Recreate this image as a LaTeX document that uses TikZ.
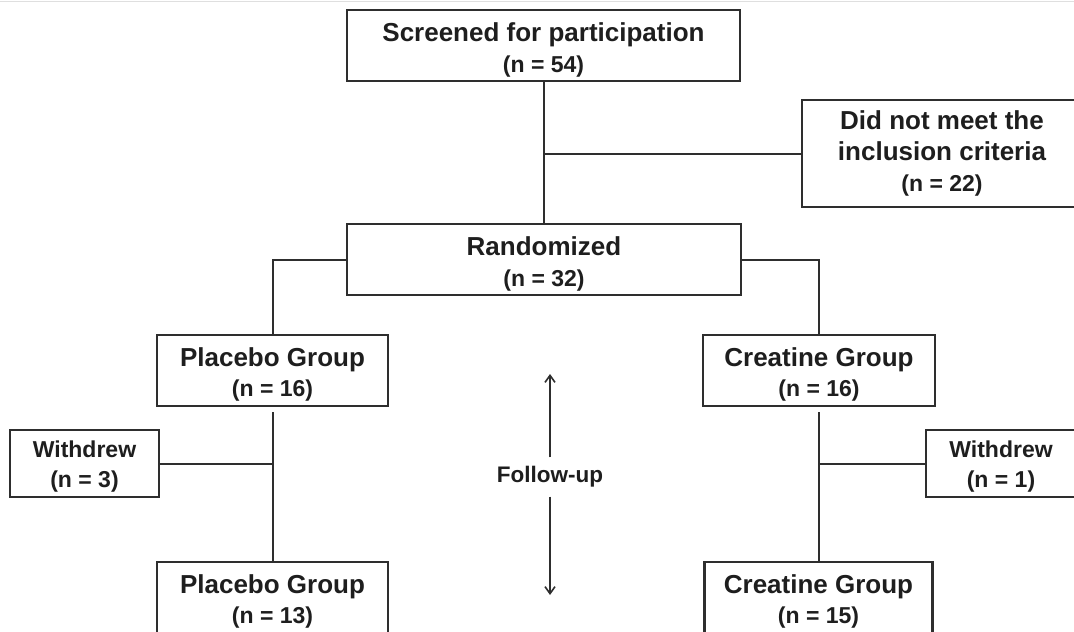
\documentclass[tikz,border=0pt]{standalone}
\usepackage{fontspec}
\setmainfont{Liberation Sans}
\usetikzlibrary{arrows.meta}
\definecolor{ln}{HTML}{2E2E2E}
\definecolor{tx}{HTML}{1E1E1E}
\newcommand{\Nsub}[1]{{\fontsize{23}{30}\selectfont #1}}
\newcommand{\Tstr}{\rule{0pt}{27pt}}
\newcommand{\Wstr}{\rule{0pt}{22pt}}
\begin{document}
\begin{tikzpicture}[x=1pt,y=-1pt,
  box/.style={draw=ln, line width=2.2pt, rectangle, inner sep=0pt, align=center, text=tx,
              font=\bfseries\fontsize{26}{31}\selectfont},
  gbox/.style={box, font=\bfseries\fontsize{26}{30}\selectfont},
  wbox/.style={box, font=\bfseries\fontsize{23}{30}\selectfont},
  conn/.style={draw=ln, line width=2pt},
  arr/.style={draw=ln, line width=1.6pt, -{Straight Barb[length=7pt,width=10pt,line width=1.6pt]}}]
\fill[white] (0,0) rectangle (1074,632);
\useasboundingbox (0,0) rectangle (1074,632);
\clip (0,0) rectangle (1074,632);
\draw[gray!25, line width=1pt] (0,1.5) -- (1074,1.5);

\node[box, minimum width=393pt, minimum height=71pt] (scr) at (543.5,45.5)
  {\Tstr Screened for participation\\\Nsub{(n = 54)}};
\node[box, minimum width=280pt, minimum height=107pt] (dnm) at (942,153.5)
  {Did not meet the\\inclusion criteria\\\Nsub{(n = 22)}};
\node[box, minimum width=394pt, minimum height=71pt] (rand) at (544,259.5)
  {\Tstr Randomized\\\Nsub{(n = 32)}};
\node[gbox, minimum width=231pt, minimum height=71pt] (pl1) at (272.5,370.5)
  {\Tstr Placebo Group\\\Nsub{(n = 16)}};
\node[gbox, minimum width=232pt, minimum height=71pt] (cr1) at (819,370.5)
  {\Tstr Creatine Group\\\Nsub{(n = 16)}};
\node[wbox, minimum width=149pt, minimum height=67pt] (wl) at (84.5,463.5)
  {\Wstr Withdrew\\(n = 3)};
\node[wbox, minimum width=150pt, minimum height=67pt] (wr) at (1001,463.5)
  {\Wstr Withdrew\\(n = 1)};
\node[gbox, minimum width=231pt, minimum height=71pt] (pl2) at (272.5,597.5)
  {\Tstr Placebo Group\\\Nsub{(n = 13)}};
\node[gbox, minimum width=228pt, minimum height=71pt] (cr2) at (818.5,597.5)
  {\Tstr Creatine Group\\\Nsub{(n = 15)}};

\node[font=\bfseries\fontsize{22.5}{26}\selectfont, text=tx, minimum height=39pt, inner sep=0pt]
  (fu) at (550,477) {Follow-up};
\coordinate (uptip) at (550,374);
\coordinate (dntip) at (550,595);

\draw[conn] (scr.south) -- (scr.south |- rand.north);
\draw[conn] (scr.south |- dnm.west) -- (dnm.west);
\draw[conn] (rand.west) -| (pl1.north);
\draw[conn] (rand.east) -| (cr1.north);
\draw[conn] ([yshift=-5pt]pl1.south) -- (pl2.north);
\draw[conn] (wl.east) -- (wl.east -| pl1.south);
\draw[conn] ([yshift=-5pt]cr1.south) -- (cr1.south |- cr2.north);
\draw[conn] (wr.west) -- (wr.west -| cr1.south);
\draw[arr] (fu.north) -- (uptip);
\draw[arr] (fu.south) -- (dntip);
\end{tikzpicture}
\end{document}
